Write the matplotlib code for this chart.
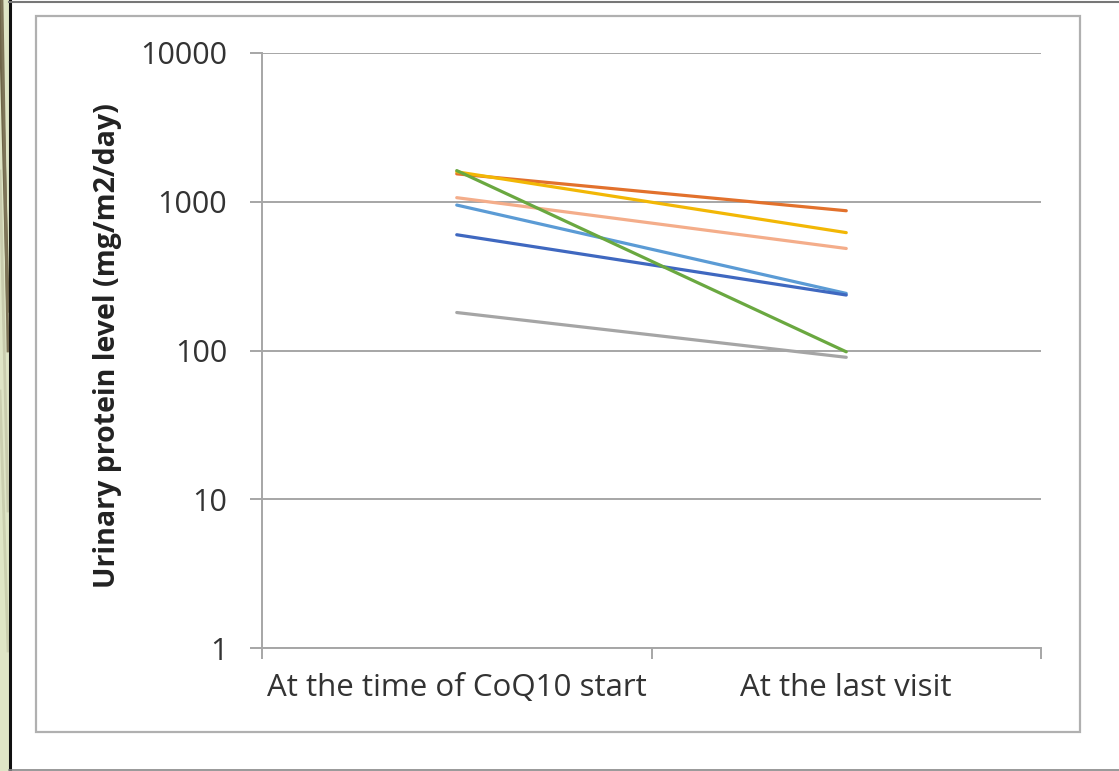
import numpy as np
import matplotlib
matplotlib.use("Agg")
import matplotlib.pyplot as plt
from matplotlib.patches import Rectangle
from matplotlib.lines import Line2D
from matplotlib.ticker import FixedLocator, FixedFormatter, NullLocator

plt.rcParams["font.family"] = ["Open Sans", "DejaVu Sans"]

# ---------------------------------------------------------------------------
# Data
# ---------------------------------------------------------------------------
categories = ["At the time of CoQ10 start", "At the last visit"]

series_colors = ["#E2712C", "#F2B705", "#F4AD8A", "#5B9BD5", "#3F68C0", "#A5A5A5", "#6AA840"]
start_values = [1540, 1590, 1065, 950, 600, 180, 1620]
last_values = [870, 620, 485, 242, 236, 90, 98]

y_ticks = [1, 10, 100, 1000, 10000]
y_label = "Urinary protein level (mg/m2/day)"

W, H = 1119, 771
fig = plt.figure(figsize=(W / 100, H / 100), dpi=100)
fig.patch.set_facecolor("white")

# --- slide decoration on the left edge ---
fig.patches.append(Rectangle((0, 0), 9 / W, 1, transform=fig.transFigure,
                             facecolor="#DFE5C6", edgecolor="none", zorder=0))
for x0, x1, y0, y1, col, lw in [
    (0, 8, 771, 460, "#6E6448", 2.5),
    (2, 8, 771, 420, "#7D7458", 2.0),
    (0, 8, 600, 260, "#C9CCAE", 2.0),
    (0, 8, 380, 120, "#CBCFB0", 2.0),
]:
    fig.add_artist(Line2D([x0 / W, x1 / W], [y0 / H, y1 / H], transform=fig.transFigure,
                          color=col, lw=lw, zorder=1))
fig.add_artist(Line2D([9.5 / W, 9.5 / W], [0, 1], transform=fig.transFigure,
                      color="#111111", lw=2.2, zorder=2))
fig.add_artist(Line2D([9 / W, 1], [1 - 2 / H, 1 - 2 / H], transform=fig.transFigure,
                      color="#777777", lw=1.5, zorder=2))
fig.add_artist(Line2D([9 / W, 1], [1.5 / H, 1.5 / H], transform=fig.transFigure,
                      color="#888888", lw=1.2, zorder=2))
# chart area border
fig.patches.append(Rectangle((36 / W, 1 - 732 / H), (1080 - 36) / W, (732 - 16) / H,
                             transform=fig.transFigure, facecolor="none",
                             edgecolor="#B0B0B0", lw=1.6, zorder=2))

# --- plot area ---
ax = fig.add_axes([262 / W, 1 - 648 / H, (1041 - 262) / W, (648 - 53) / H])
x = np.arange(len(categories))
for s, e, c in zip(start_values, last_values, series_colors):
    ax.plot(x, [s, e], color=c, lw=2.3, solid_capstyle="round", zorder=3)

ax.set_yscale("log")
ax.set_ylim(1, 10000)
ax.set_xlim(-0.5, 1.5)
ax.yaxis.set_major_locator(FixedLocator(y_ticks))
ax.yaxis.set_major_formatter(FixedFormatter([str(v) for v in y_ticks]))
ax.yaxis.set_minor_locator(NullLocator())
ax.grid(axis="y", color="#A6A6A6", lw=1.4, zorder=1)

ax.xaxis.set_major_locator(FixedLocator([-0.5, 0.5, 1.5]))
ax.xaxis.set_major_formatter(FixedFormatter(["", "", ""]))
ax.xaxis.set_minor_locator(FixedLocator(x))
ax.xaxis.set_minor_formatter(FixedFormatter(categories))
ax.tick_params(axis="x", which="minor", length=0, labelsize=22.5, colors="#333333", pad=18)
ax.tick_params(axis="x", which="major", length=8, width=1.4, color="#A6A6A6")
ax.tick_params(axis="y", which="major", length=9, width=1.4, color="#A6A6A6",
               labelsize=22, labelcolor="#333333", pad=16)

for side in ["top", "right"]:
    ax.spines[side].set_visible(False)
for side in ["left", "bottom"]:
    ax.spines[side].set_color("#A6A6A6")
    ax.spines[side].set_linewidth(1.4)

ax.set_ylabel(y_label, fontsize=20.5, fontweight="bold", color="#222222")
ax.yaxis.set_label_coords(-0.18, 0.508)

fig.savefig("out.png", dpi=100)
